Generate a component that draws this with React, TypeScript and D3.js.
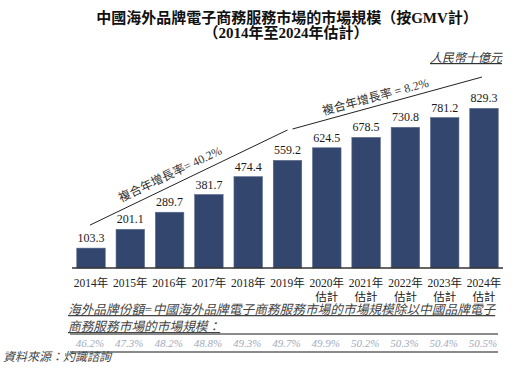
import React from "react";
import * as d3 from "d3";

const years = ["2014", "2015", "2016", "2017", "2018", "2019", "2020", "2021", "2022", "2023", "2024"];
const estimated = [false, false, false, false, false, false, true, true, true, true, true];
const values = [103.3, 201.1, 289.7, 381.7, 474.4, 559.2, 624.5, 678.5, 730.8, 781.2, 829.3];
const shares = ["46.2%", "47.3%", "48.2%", "48.8%", "49.3%", "49.7%", "49.9%", "50.2%", "50.3%", "50.4%", "50.5%"];

// CAGR annotations: from year / value to year / value (value = height on the y scale)
const cagrs = [
  { label: "複合年增長率= 40.2%", from: ["2014", 223], to: ["2019", 717], dx0: -1, dx1: 0, t: 0.43, off: -7 },
  { label: "複合年增長率 = 8.2%", from: ["2019", 722], to: ["2024", 992], dx0: 5, dx1: -2, t: 0.45, off: -5 },
];

const serif = "'Liberation Serif', 'Times New Roman', 'Noto Sans CJK TC', serif";
const barColor = "#33466d";

export default function App() {
  const W = 529;
  const H = 391;
  const base = 268;

  const x = d3.scaleBand<string>().domain(years).range([72, 503]).paddingInner(0.275).paddingOuter(0.121);
  const y = d3.scaleLinear().domain([0, 900]).range([base, base - 900 * 0.1925]);
  const cx = (yr: string) => (x(yr) ?? 0) + x.bandwidth() / 2;

  return (
    <svg width={W} height={H} style={{ position: "absolute", left: 0, top: 0, fontFamily: serif }}>
      <rect width={W} height={H} fill="#fff" />

      <text x={287} y={23} textAnchor="middle" fontSize={15} fontWeight="bold" fill="#111">
        中國海外品牌電子商務服務市場的市場規模（按GMV計）
      </text>
      <text x={286} y={38} textAnchor="middle" fontSize={15} fontWeight="bold" fill="#111">
        （2014年至2024年估計）
      </text>

      <text x={502} y={62} textAnchor="end" fontSize={12} fontStyle="italic" fill="#333" textDecoration="underline">
        人民幣十億元
      </text>

      {years.map((yr, i) => (
        <g key={yr}>
          <rect
            x={x(yr)}
            y={y(values[i])}
            width={x.bandwidth()}
            height={base - y(values[i])}
            fill={barColor}
            stroke="#5b6a8c"
            strokeWidth={0.6}
          />
          <text x={cx(yr)} y={y(values[i]) - 6} textAnchor="middle" fontSize={12} fill="#1a1a1a">
            {values[i].toFixed(1)}
          </text>
          <text x={cx(yr)} y={287} textAnchor="middle" fontSize={11.5} fill="#222">
            {yr}年
          </text>
          {estimated[i] && (
            <text x={cx(yr)} y={301} textAnchor="middle" fontSize={11.5} fill="#222">
              估計
            </text>
          )}
          <text x={cx(yr) - 1} y={347} textAnchor="middle" fontSize={11} fontStyle="italic" fill="#a3abbd">
            {shares[i]}
          </text>
        </g>
      ))}

      <line x1={72} x2={503} y1={base} y2={base} stroke="#333" strokeWidth={1.4} />

      {cagrs.map((c) => {
        const x0 = cx(c.from[0] as string) + c.dx0;
        const y0 = y(c.from[1] as number);
        const x1 = cx(c.to[0] as string) + c.dx1;
        const y1 = y(c.to[1] as number);
        const ang = (Math.atan2(y1 - y0, x1 - x0) * 180) / Math.PI;
        const mx = x0 + (x1 - x0) * c.t;
        const my = y0 + (y1 - y0) * c.t;
        return (
          <g key={c.label}>
            <line x1={x0} y1={y0} x2={x1} y2={y1} stroke="#222" strokeWidth={1} />
            <text
              transform={`translate(${mx},${my}) rotate(${ang})`}
              y={c.off}
              textAnchor="middle"
              fontSize={12}
              fill="#333"
            >
              {c.label}
            </text>
          </g>
        );
      })}

      <text x={68} y={314} fontSize={12.7} fontStyle="italic" fill="#444" textDecoration="underline">
        海外品牌份額=中國海外品牌電子商務服務市場的市場規模除以中國品牌電子
      </text>
      <text x={68} y={331} fontSize={12.7} fontStyle="italic" fill="#444" textDecoration="underline">
        商務服務市場的市場規模：
      </text>

      <line x1={70} x2={498} y1={334} y2={334} stroke="#8a8a8a" strokeWidth={2} />
      <line x1={70} x2={498} y1={352} y2={352} stroke="#8a8a8a" strokeWidth={2} />

      <text x={3} y={361} fontSize={12} fontStyle="italic" fill="#444">
        資料來源：灼識諮詢
      </text>
    </svg>
  );
}
